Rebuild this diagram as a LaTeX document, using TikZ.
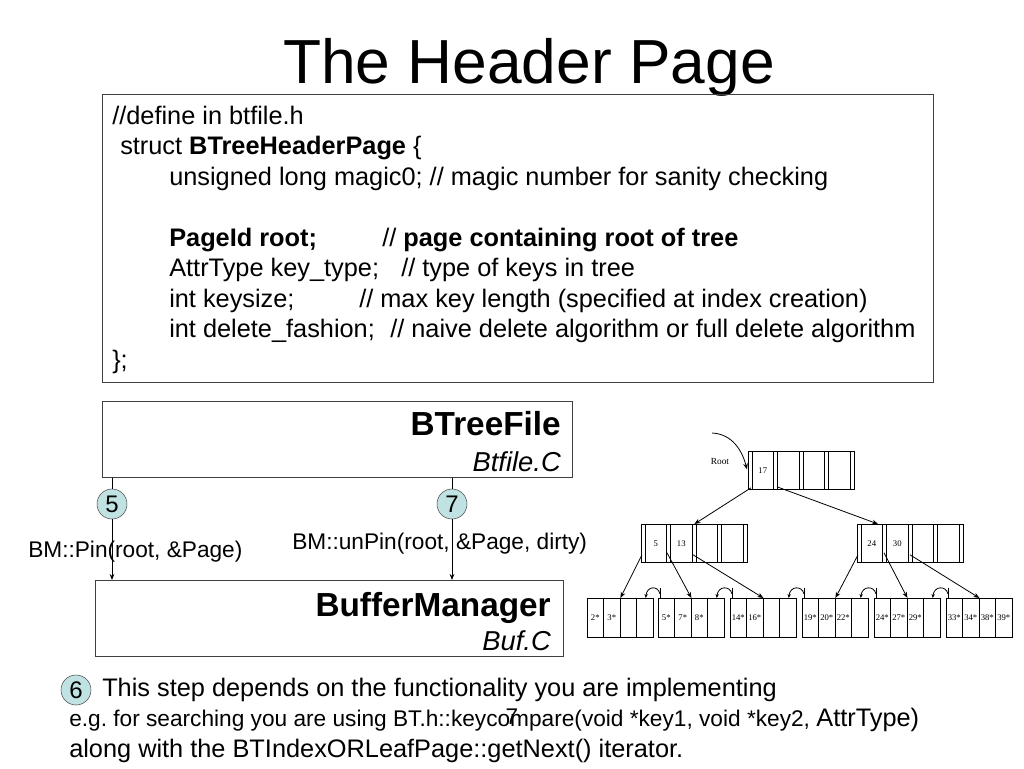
\documentclass[tikz,border=0pt]{standalone}
\usepackage{fontspec}
\setmainfont{Liberation Sans}
\newfontfamily\treefont{Liberation Serif}
\usetikzlibrary{arrows.meta,calc}
\definecolor{stepcyan}{RGB}{192,226,226}

\begin{document}
\begin{tikzpicture}[x=0.75pt,y=-0.75pt,
	codeline/.style={anchor=base west, inner sep=0pt, font=\fontsize{19}{23}\selectfont},
	modbox/.style={draw=black!75, line width=0.8pt, anchor=north west, inner sep=0pt},
	modname/.style={anchor=base east, inner sep=0pt, font=\bfseries\fontsize{25}{30}\selectfont},
	modsrc/.style={anchor=base east, inner sep=0pt, font=\itshape\fontsize{20.5}{24}\selectfont},
	stepnum/.style={circle, draw=black!70, fill=stepcyan, minimum size=22.5pt, inner sep=0pt, font=\fontsize{18}{20}\selectfont},
	calltxt/.style={anchor=base west, inner sep=0pt, font=\fontsize{17}{20}\selectfont},
	idx/.style={draw, line width=0.6pt, anchor=north west, minimum width=79.5pt, minimum height=28.5pt, inner sep=0pt},
	leaf/.style={draw, line width=0.6pt, anchor=north west, minimum width=49.5pt, minimum height=29.25pt, inner sep=0pt},
	keytxt/.style={font=\treefont\fontsize{6.5}{7}\selectfont, inner sep=0pt},
	ptr/.style={-{Stealth[length=4.5pt,width=3.5pt]}, line width=0.6pt},
	]
	\useasboundingbox (0,0) rectangle (1024,768);

	% Title
	\node[font=\fontsize{46.7}{56}\selectfont, anchor=base, inner sep=0pt] (title) at (529,83) {The Header Page};

	% Header page struct
	\node[modbox, minimum width=623.25pt, minimum height=216pt] (hdr) at (102,94) {};
	\node[codeline] (ln1) at (112,124) {//define in btfile.h};
	\node[codeline] (ln2) at (120,154.5) {struct \textbf{BTreeHeaderPage} \{};
	\node[codeline] (ln3) at (169,185) {unsigned long magic0; // magic number for sanity checking};
	\node[codeline] (ln4) at (169,246) {\textbf{PageId root;}};
	\node[codeline] (cm4) at (382,246) {// \textbf{page containing root of tree}};
	\node[codeline] (ln5) at (169,276.5) {AttrType key\_type;};
	\node[codeline] (cm5) at (401,276.5) {// type of keys in tree};
	\node[codeline] (ln6) at (169,307) {int keysize;};
	\node[codeline] (cm6) at (359,307) {// max key length (specified at index creation)};
	\node[codeline] (ln7) at (169,337.5) {int delete\_fashion;};
	\node[codeline] (cm7) at (390,337.5) {// naive delete algorithm or full delete algorithm};
	\node[codeline] (ln8) at (112,368) {\};};

	% Modules
	\node[modbox, minimum width=352.5pt, minimum height=57pt] (btf) at (102,401) {};
	\node[modname] (btfname) at (561,435) {BTreeFile};
	\node[modsrc] (btfsrc) at (561,471) {Btfile.C};

	\node[modbox, minimum width=351pt, minimum height=57pt] (buf) at (95,580) {};
	\node[modname] (bufname) at (551,616) {BufferManager};
	\node[modsrc] (bufsrc) at (551,650) {Buf.C};

	% Steps 5 and 7
	\node[stepnum] (s5) at (112,504) {5};
	\node[stepnum] (s7) at (452,504) {7};
	\draw[line width=0.6pt] (btf.south -| s5) -- (s5);
	\draw[ptr] (s5) -- (s5 |- buf.north);
	\draw[line width=0.6pt] (btf.south -| s7) -- (s7);
	\draw[ptr] (s7) -- (s7 |- buf.north);
	\node[calltxt] (pincall) at (28,557) {BM::Pin(root, \&Page)};
	\node[calltxt] (unpincall) at (292,549) {BM::unPin(root, \&Page, dirty)};

	% B+ tree: index nodes
	\node[idx] (root) at (748,451) {};
	\node[idx] (lnode) at (641,524) {};
	\node[idx] (rnode) at (857,524) {};
	\foreach \n in {root,lnode,rnode}
		\foreach \s in {4,25.5,29.5,51,55,76.5,80.5,102}
			\draw[line width=0.6pt] ($(\n.north west)+(\s,0)$) -- ($(\n.south west)+(\s,0)$);
	\node[keytxt] at ($(root.west)+(14.75,0)$) {17};
	\node[keytxt] at ($(lnode.west)+(14.75,0)$) {5};
	\node[keytxt] at ($(lnode.west)+(40.25,0)$) {13};
	\node[keytxt] at ($(rnode.west)+(14.75,0)$) {24};
	\node[keytxt] at ($(rnode.west)+(40.25,0)$) {30};

	% Root pointer
	\coordinate (rootsrc) at (712,433);
	\draw[ptr] (rootsrc) .. controls (732,434) and (742,450) .. ($(root.west)+(-1,-1)$);
	\node[keytxt, font=\treefont\fontsize{7}{8}\selectfont] (rootlbl) at (720,461) {Root};

	% B+ tree: leaves
	\foreach \name/\lx/\keys in {leaf1/587/{2*,3*},leaf2/658/{5*,7*,8*},leaf3/730/{14*,16*},
		leaf4/802/{19*,20*,22*},leaf5/874/{24*,27*,29*},leaf6/946/{33*,34*,38*,39*}} {
		\node[leaf] (\name) at (\lx,598) {};
		\foreach \k in {1,2,3}
			\draw[line width=0.6pt] ($(\name.north west)+(16.5*\k,0)$) -- ($(\name.south west)+(16.5*\k,0)$);
		\foreach \key [count=\i from 0] in \keys
			\node[keytxt] at (\lx+8.25+16.5*\i,617.5) {\key};
	}

	% Child pointers
	\draw[ptr] ($(root.south west)+(3,-2)$) -- (lnode.north);
	\draw[ptr] ($(root.south west)+(29,-3)$) -- ($(rnode.north west)+(21,0)$);
	\draw[ptr] ($(lnode.south west)+(1,-8)$) -- (leaf1.north);
	\draw[ptr] ($(lnode.south west)+(26,-10)$) -- (leaf2.north);
	\draw[ptr] ($(lnode.south west)+(52,-8)$) -- (leaf3.north);
	\draw[ptr] ($(rnode.south west)+(1,-8)$) -- (leaf4.north);
	\draw[ptr] ($(rnode.south west)+(27,-10)$) -- (leaf5.north);
	\draw[ptr] ($(rnode.south west)+(53,-8)$) -- (leaf6.north);

	% Sibling pointers
	\foreach \a/\b in {leaf1/leaf2,leaf2/leaf3,leaf3/leaf4,leaf4/leaf5,leaf5/leaf6} {
		\draw[{Stealth[length=3pt,width=2.5pt]}-, line width=0.6pt] ($(\a.north east)+(-8,0)$)
			.. controls ($(\a.north east)+(-7,-12)$) and ($(\b.north west)+(0,-13)$) .. ($(\b.north west)+(2,-4)$);
		\draw[line width=0.6pt] ($(\b.north west)+(2,-10)$) -- ($(\b.north west)+(2,0)$);
	}

	% Step 6
	\node[stepnum] (s6) at (76,690) {6};
	\node[codeline] (note1) at (102,696) {This step depends on the functionality you are implementing};
	\node[codeline] (note2) at (69,726) {\fontsize{17}{20}\selectfont e.g.\ for searching you are using BT.h::keycompare(void *key1, void *key2, \fontsize{19}{23}\selectfont AttrType)};
	\node[codeline] (note3) at (69,757) {along with the BTIndexORLeafPage::getNext() iterator.};
	\node[font=\fontsize{17}{20}\selectfont, inner sep=0pt] (pagenum) at (512,717) {7};

\end{tikzpicture}
\end{document}
